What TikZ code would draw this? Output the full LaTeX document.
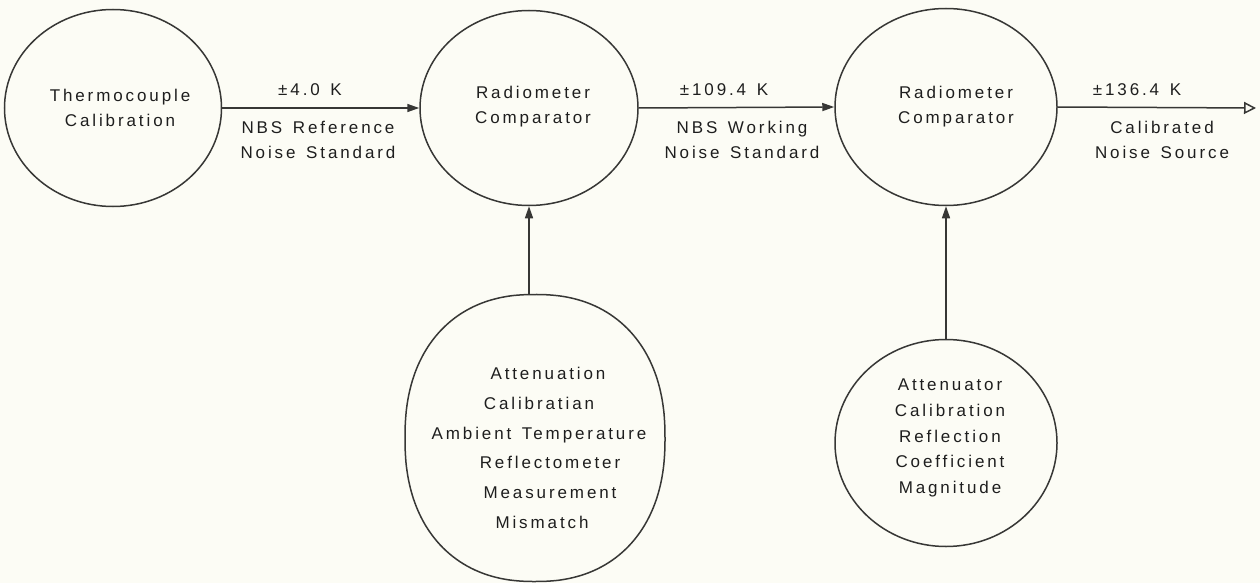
\documentclass[tikz,border=0pt]{standalone}
\usepackage{fontspec}
\setmainfont{Liberation Sans}[LetterSpace=17,WordSpace=1.4]
\usetikzlibrary{arrows.meta,shapes.geometric}
\definecolor{bgcol}{RGB}{252,252,245}
\definecolor{linecol}{RGB}{55,55,53}
\definecolor{textcol}{RGB}{30,30,30}
\tikzset{
  bubble/.style={draw=linecol, line width=1.5pt, ellipse, inner sep=0pt},
  txt/.style={text=textcol, align=center, inner sep=0pt, font=\fontsize{17}{25}\selectfont},
  conn/.style={draw=linecol, line width=1.5pt, -{Triangle[length=12pt,width=8pt]}},
  connopen/.style={draw=linecol, line width=1.5pt, -{Triangle[open,length=12pt,width=12pt]}},
}
\begin{document}
\begin{tikzpicture}[x=1pt,y=-1pt]
\fill[bgcol] (0,0) rectangle (1260,583);
\useasboundingbox (0,0) rectangle (1260,583);
% bubbles
\node[bubble, minimum width=217pt, minimum height=197pt] (tc) at (113,108) {};
\node[bubble, minimum width=218pt, minimum height=195pt] (rc1) at (529,108) {};
\node[bubble, minimum width=222pt, minimum height=197pt] (rc2) at (946,107) {};
\node[bubble, draw=none, minimum width=260pt, minimum height=287pt] (att1) at (535,438) {};
\draw[linecol, line width=1.5pt] plot[domain=0.5:360.5, samples=181, smooth]
  ({535+130*sign(cos(\x))*abs(cos(\x))^0.88}, {438+143.5*sign(sin(\x))*abs(sin(\x))^0.88}) -- cycle;
\node[bubble, minimum width=222pt, minimum height=207pt] (att2) at (946,443) {};
% texts
\node[txt] (tct) at (120,108) {Thermocouple\\Calibration};
\node[txt] (rc1t) at (533,107) {Radiometer\\Comparator};
\node[txt] (rc2t) at (956,107) {Radiometer\\Comparator};
\node[txt, font=\fontsize{17}{29.8}\selectfont] (att1t) at (539,448) {\hspace*{18pt}Attenuation\\Calibratian\\Ambient Temperature\\\hspace*{22pt}Reflectometer\\\hspace*{22pt}Measurement\\\hspace*{6pt}Mismatch};
\node[txt, font=\fontsize{17}{25.7}\selectfont] (att2t) at (950,438) {Attenuator\\Calibration\\Reflection\\Coefficient\\Magnitude};
% connector labels
\node[txt] (l1a) at (310,90) {±4.0 K};
\node[txt] (l1b) at (318,140) {NBS Reference\\Noise Standard};
\node[txt] (l2a) at (724,90) {±109.4 K};
\node[txt] (l2b) at (742,140) {NBS Working\\Noise Standard};
\node[txt] (l3a) at (1137,90) {±136.4 K};
\node[txt] (l3b) at (1162,140) {Calibrated\\Noise Source};
% connectors
\coordinate (out) at (1256,108);
\draw[conn] (tc.east) -- (rc1.west);
\draw[conn] (rc1.east) -- (rc2.west);
\draw[connopen] (rc2.east) -- (out);
\draw[conn] (att1.north -| rc1.south) -- (rc1.south);
\draw[conn] (att2.north) -- (rc2.south);
\end{tikzpicture}
\end{document}
